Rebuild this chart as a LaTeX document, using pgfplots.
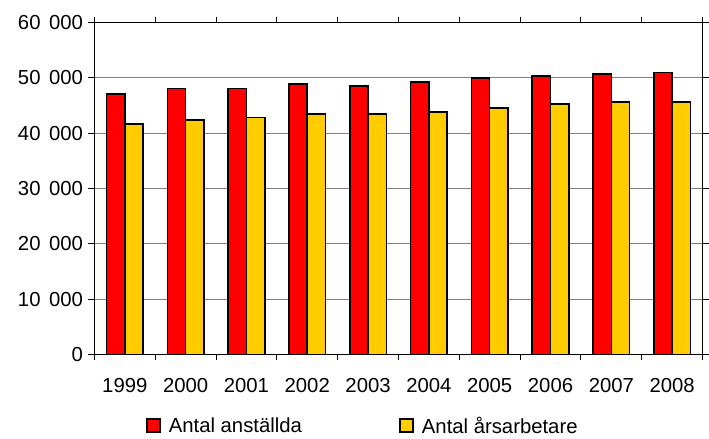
\documentclass[border=0pt]{standalone}
\usepackage{pgfplots}
\pgfplotsset{compat=1.18}
\usepackage{fontspec}
\setmainfont{Liberation Sans}
\definecolor{barred}{RGB}{255,0,0}
\definecolor{baryel}{RGB}{255,204,0}
\definecolor{gridgray}{RGB}{128,128,128}
\begin{document}
\begin{tikzpicture}[x=1bp,y=1bp]
\path (0,0) rectangle (709,441);
\begin{axis}[
  at={(95bp,84.3bp)}, anchor=south west,
  scale only axis, width=612bp, height=334bp,
  ybar=0pt, bar width=18.4bp,
  xmin=-0.5, xmax=9.5, ymin=0, ymax=60000,
  xtick={0,...,9},
  xticklabels={1999,2000,2001,2002,2003,2004,2005,2006,2007,2008},
  minor xtick={-0.5,0.5,...,9.5},
  ytick={0,10000,...,60000},
  scaled y ticks=false,
  /pgf/number format/.cd, fixed, 1000 sep={\hspace{0.42em}}, assume math mode=true, /pgfplots/.cd,
  tick align=outside,
  x tick style={draw=none},
  minor x tick style={draw=black, line width=1bp},
  minor tick length=6bp,
  y tick style={black, line width=1bp},
  major tick length=6bp,
  axis line style={black, line width=1bp},
  ymajorgrids, grid style={gridgray, line width=1bp},
  tick label style={font=\fontsize{20.5}{24}\selectfont, black},
  xticklabel style={yshift=-15bp},
  yticklabel style={xshift=-2bp},
  legend style={draw=none, fill=none, font=\fontsize{20.5}{24}\selectfont,
    at={(0.08,-0.175)}, anchor=north west, legend columns=2,
    /tikz/every even column/.append style={column sep=96bp}},
  legend image code/.code={\draw[#1, draw=black, line width=1.5bp] (0bp,-6.5bp) rectangle (13bp,6.5bp); \path[draw=none, fill=none] (0bp,0bp) rectangle (20bp,0.1bp);},
]
\addplot[fill=barred, draw=black, line width=1.6bp] coordinates {
(0,47100) (1,48100) (2,48100) (3,48900) (4,48500) (5,49200) (6,50000) (7,50300) (8,50700) (9,51000)};
\addlegendentry{Antal anställda}
\addplot[fill=baryel, draw=black, line width=1.6bp] coordinates {
(0,41700) (1,42400) (2,42800) (3,43500) (4,43500) (5,43800) (6,44600) (7,45300) (8,45600) (9,45600)};
\addlegendentry{Antal årsarbetare}
\end{axis}
\end{tikzpicture}
\end{document}
